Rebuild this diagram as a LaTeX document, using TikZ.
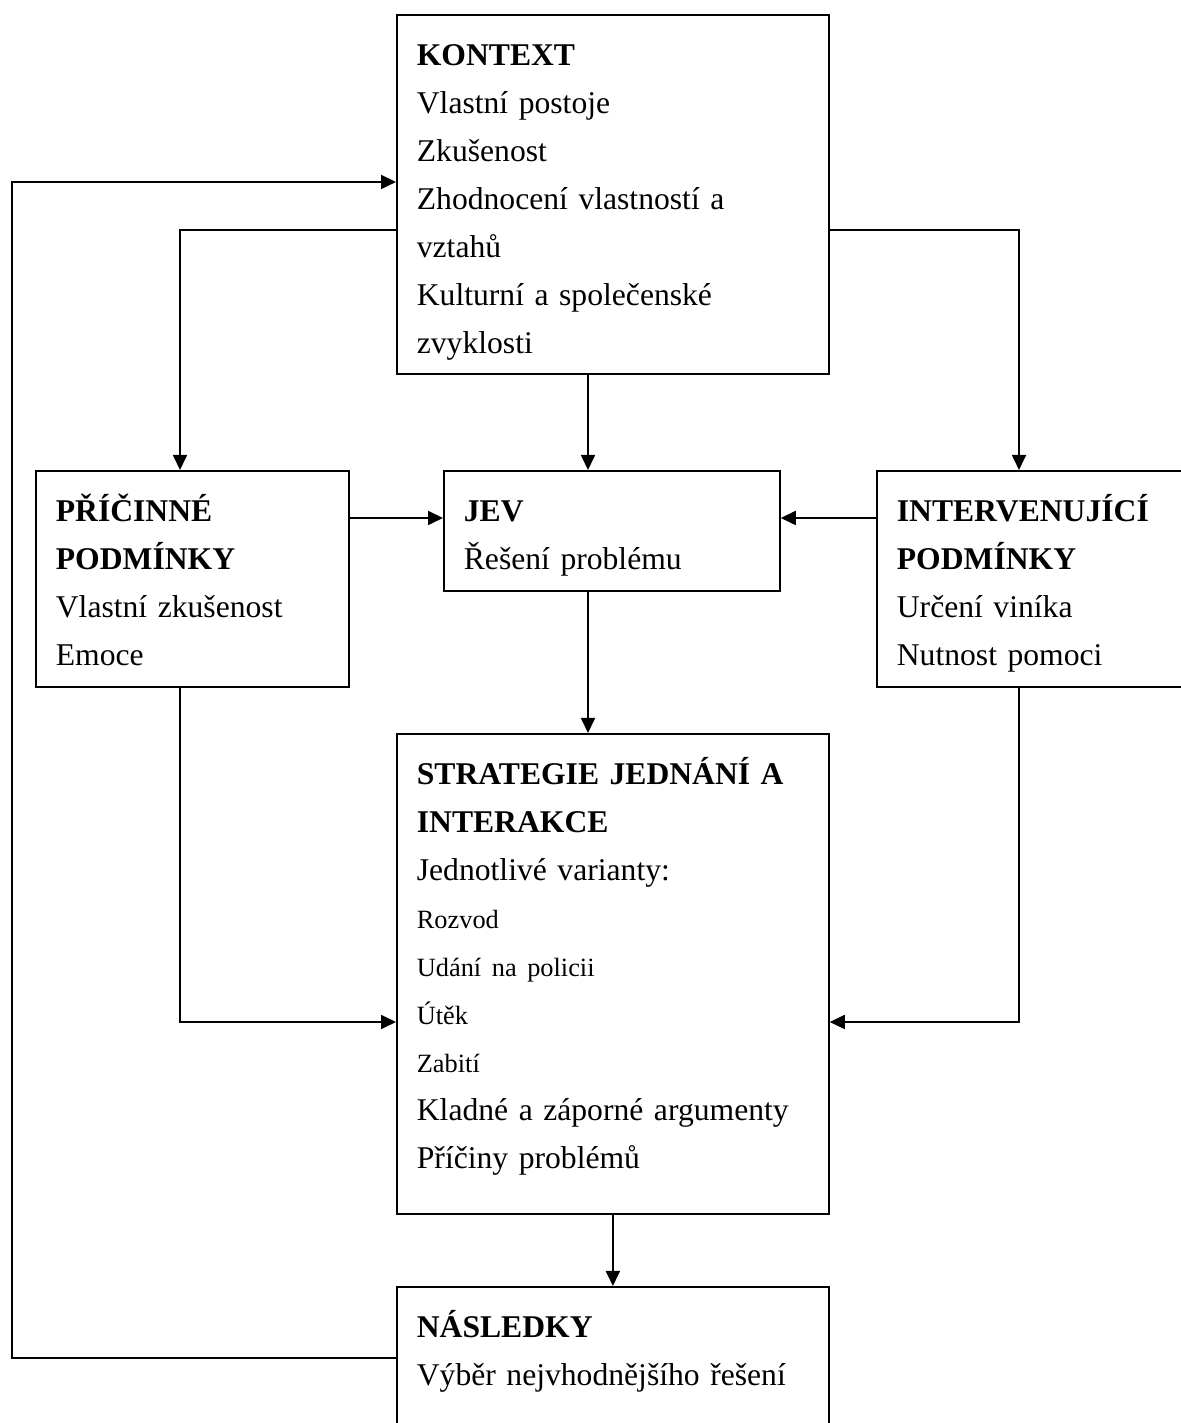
\documentclass[tikz,border=0pt]{standalone}
\usepackage{fontspec}
\setmainfont{Liberation Serif}
\usepackage{tikz}
\usetikzlibrary{arrows.meta}

\newcommand{\bodytext}{\fontsize{18pt}{27.3pt}\selectfont}
\newcommand{\smalltext}{\fontsize{15pt}{27.3pt}\selectfont}

\begin{document}
\begin{tikzpicture}[auto,scale=1.0]
	\tikzstyle{box}=[rectangle,draw,line width=1pt,anchor=north west,align=left,inner xsep=0.4cm,inner ysep=0pt,text height=1.02cm,font=\bodytext]
	\tikzstyle{link}=[line width=1pt,-{Triangle[length=0.3cm,width=0.28cm]}]
	\useasboundingbox (0,0) rectangle (23.6,28.46);
	\node (kontext)   at (7.92,28.18) [box,text width=7.84cm,text depth=6.16cm] {\textbf{KONTEXT}\\Vlastní postoje\\Zkušenost\\Zhodnocení vlastností a\\vztahů\\Kulturní a společenské\\zvyklosti};
	\node (pricinne)  at (0.70,19.06) [box,text width=5.46cm,text depth=3.30cm] {\textbf{PŘÍČINNÉ}\\\textbf{PODMÍNKY}\\Vlastní zkušenost\\Emoce};
	\node (jev)       at (8.86,19.06) [box,text width=5.92cm,text depth=1.38cm] {\textbf{JEV}\\Řešení problému};
	\node (interv)    at (17.52,19.06) [box,text width=5.68cm,text depth=3.30cm] {\textbf{INTERVENUJÍCÍ}\\\textbf{PODMÍNKY}\\Určení viníka\\Nutnost pomoci};
	\node (strategie) at (7.92,13.80) [box,text width=7.84cm,text depth=8.58cm] {\textbf{STRATEGIE JEDNÁNÍ A}\\\textbf{INTERAKCE}\\Jednotlivé varianty:\\{\smalltext Rozvod}\\{\smalltext Udání na policii}\\{\smalltext Útěk}\\{\smalltext Zabití}\\Kladné a záporné argumenty\\Příčiny problémů};
	\node (nasledky)  at (7.92,2.74) [box,text width=7.84cm,text depth=2.48cm] {\textbf{NÁSLEDKY}\\Výběr nejvhodnějšího řešení};
	\coordinate (back)   at (0.24,0);
	\coordinate (leftx)  at (3.60,0);
	\coordinate (midx)   at (11.76,0);
	\coordinate (rightx) at (20.38,0);
	\coordinate (backy)  at (0,24.82);
	\coordinate (topy)   at (0,23.86);
	\coordinate (sidey)  at (0,18.10);
	\coordinate (lowy)   at (0,8.02);
	\coordinate (fby)    at (0,1.30);
	\draw [link] (nasledky.west |- fby) -| (back |- backy) -- (kontext.west |- backy);
	\draw [link] (kontext.west |- topy) -| (pricinne.north -| leftx);
	\draw [link] (kontext.east |- topy) -| (interv.north -| rightx);
	\draw [link] (kontext.south -| midx) -- (jev.north -| midx);
	\draw [link] (pricinne.east |- sidey) -- (jev.west |- sidey);
	\draw [link] (interv.west |- sidey) -- (jev.east |- sidey);
	\draw [link] (jev.south -| midx) -- (strategie.north -| midx);
	\draw [link] (pricinne.south -| leftx) |- (strategie.west |- lowy);
	\draw [link] (interv.south -| rightx) |- (strategie.east |- lowy);
	\draw [link] (strategie.south) -- (nasledky.north);
\end{tikzpicture}
\end{document}
